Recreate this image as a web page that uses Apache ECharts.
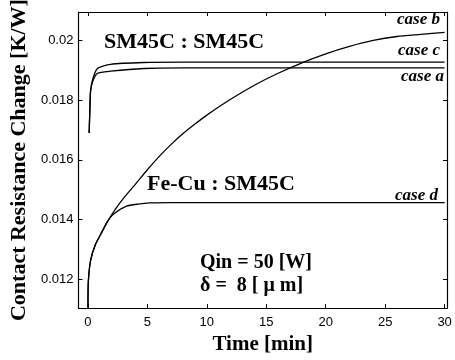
<!DOCTYPE html>
<html>
<head>
<meta charset="utf-8">
<script src="https://cdn.jsdelivr.net/npm/echarts@6/dist/echarts.min.js"></script>
<style>html,body{margin:0;padding:0;background:#fff}#c{width:455px;height:360px}</style>
</head>
<body>
<div id="c"></div>
<script>
// Time [min] and contact resistance change [K/W]
const tA = [0.1, 0.14, 0.17, 0.22, 0.4, 0.8, 1.9, 4.7, 8, 15, 30];
const caseA = [0.0169, 0.0174, 0.0178, 0.0183, 0.01862, 0.0189, 0.01897, 0.01906, 0.01908, 0.01908, 0.01908];
const tC = [0.1, 0.14, 0.17, 0.22, 0.4, 0.8, 1.9, 4.7, 8, 15, 30];
const caseC = [0.0169, 0.0174, 0.0178, 0.0183, 0.0187, 0.01906, 0.0192, 0.01926, 0.01927, 0.01927, 0.01927];
const tB = [0, 0.03, 0.22, 0.63, 1.18, 1.6, 2.4, 3, 4, 5, 6, 7, 8, 9, 10, 12, 14, 16, 18, 20, 22, 24, 26, 28, 30];
const caseB = [0.01105, 0.0119, 0.01263, 0.01317, 0.01359, 0.01391, 0.0144, 0.01472, 0.01519, 0.01567, 0.01612, 0.01652, 0.01688, 0.0172, 0.0175, 0.01803, 0.0185, 0.0189, 0.01925, 0.01955, 0.0198, 0.02, 0.02013, 0.0202, 0.02027];
const tD = [0, 0.03, 0.22, 0.63, 1.18, 1.6, 2.14, 3.24, 4.2, 5.2, 7, 10, 20, 30];
const caseD = [0.01105, 0.0119, 0.01263, 0.01317, 0.01359, 0.01391, 0.01418, 0.01445, 0.01452, 0.01456, 0.01457, 0.01457, 0.01457, 0.01457];
const xTicks = [0, 5, 10, 15, 20, 25, 30];
const yTicks = [0.012, 0.014, 0.016, 0.018, 0.020];

const pairs = (t, v) => t.map((x, i) => [x, v[i]]);
const serif = "'Liberation Serif', 'Times New Roman', serif";
const sans = "'Liberation Sans', Arial, sans-serif";

const chart = echarts.init(document.getElementById('c'), null, {renderer: 'canvas'});
const lineSeries = (data) => ({
  type: 'line', data, showSymbol: false, smooth: 0.2,
  lineStyle: {color: '#000', width: 1.3}, silent: true, xAxisIndex: 0, yAxisIndex: 0
});
const xBase = {type: 'value', min: -0.8, max: 30.2, splitLine: {show: false},
  axisLine: {show: true, onZero: false, lineStyle: {color: '#000', width: 1.2}},
  axisTick: {show: true, inside: true, length: 4, customValues: xTicks, lineStyle: {color: '#000'}}};
const yBase = {type: 'value', min: 0.01104, max: 0.02095, splitLine: {show: false},
  axisLine: {show: true, onZero: false, lineStyle: {color: '#000', width: 1.2}},
  axisTick: {show: true, inside: true, length: 4, customValues: yTicks, lineStyle: {color: '#000'}}};

chart.setOption({
  animation: false,
  backgroundColor: '#fff',
  grid: {left: 70, top: 7, right: 8, bottom: 44},
  xAxis: [
    Object.assign({}, xBase, {position: 'bottom',
      name: 'Time [min]', nameLocation: 'middle', nameGap: 11,
      nameTextStyle: {fontFamily: serif, fontWeight: 'bold', fontSize: 21, color: '#000'},
      axisLabel: {show: true, customValues: xTicks, margin: 8, fontFamily: sans, fontSize: 13, color: '#000', formatter: v => String(v)}}),
    Object.assign({}, xBase, {position: 'top', axisLabel: {show: false}})
  ],
  yAxis: [
    Object.assign({}, yBase, {position: 'left',
      name: 'Contact Resistance Change [K/W]', nameLocation: 'middle', nameGap: 44,
      nameTextStyle: {fontFamily: serif, fontWeight: 'bold', fontSize: 22, color: '#000'},
      axisLabel: {show: true, customValues: yTicks, margin: 5, fontFamily: sans, fontSize: 13, color: '#000', formatter: v => String(+v.toFixed(3))}}),
    Object.assign({}, yBase, {position: 'right', axisLabel: {show: false}})
  ],
  series: [
    lineSeries(pairs(tA, caseA)),
    lineSeries(pairs(tC, caseC)),
    lineSeries(pairs(tB, caseB)),
    lineSeries(pairs(tD, caseD))
  ],
  graphic: [
    {type: 'text', left: 104, top: 31, style: {text: 'SM45C : SM45C', font: 'bold 22px ' + serif, fill: '#000'}},
    {type: 'text', left: 147, top: 173, style: {text: 'Fe-Cu : SM45C', font: 'bold 22px ' + serif, fill: '#000'}},
    {type: 'text', left: 200, top: 253, style: {text: 'Qin = 50 [W]', font: 'bold 20px ' + serif, fill: '#000'}},
    {type: 'text', left: 200, top: 276, style: {text: 'δ =  8 [ μ m]', font: 'bold 20px ' + serif, fill: '#000'}},
    {type: 'text', left: 397, top: 11, style: {text: 'case b', font: 'italic bold 17px ' + serif, fill: '#000'}},
    {type: 'text', left: 398, top: 42, style: {text: 'case c', font: 'italic bold 17px ' + serif, fill: '#000'}},
    {type: 'text', left: 401, top: 68, style: {text: 'case a', font: 'italic bold 17px ' + serif, fill: '#000'}},
    {type: 'text', left: 395, top: 187, style: {text: 'case d', font: 'italic bold 17px ' + serif, fill: '#000'}}
  ]
});
</script>
</body>
</html>
